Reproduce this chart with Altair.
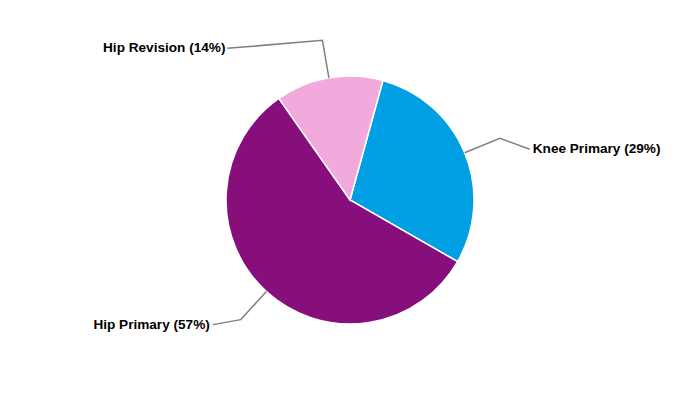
import altair as alt
import pandas as pd
import numpy as np

# data
categories = ["Knee Primary", "Hip Primary", "Hip Revision"]
shares = [29, 57, 14]
colors = ["#009FE3", "#870F7B", "#F2AADC"]

# layout (page pixel coords)
W, H = 684, 384
CX, CY = 350, 200
R = 124
R_ELBOW = 162
START = np.deg2rad(15.4)
label_off = {  # from elbow to label end
    "Knee Primary": (30, 11, 3, "left"),
    "Hip Primary": (-28, 5, -3, "right"),
    "Hip Revision": (-95, 8, -2, "right"),
}

vals = np.array(shares, dtype=float)
frac = vals / vals.sum()
ends = START + np.cumsum(frac) * 2 * np.pi
mids = ends - frac * np.pi

pie_df = pd.DataFrame({"cat": categories, "share": shares, "ord": range(len(categories))})

line_rows, text_rows = [], []
for c, s, m in zip(categories, shares, mids):
    p0 = (CX + R * np.sin(m), CY - R * np.cos(m))
    p1 = (CX + R_ELBOW * np.sin(m), CY - R_ELBOW * np.cos(m))
    dx, dy, tdx, al = label_off[c]
    p2 = (p1[0] + dx, p1[1] + dy)
    for i, p in enumerate([p0, p1, p2]):
        line_rows.append({"cat": c, "i": i, "x": p[0], "y": p[1]})
    text_rows.append({"cat": c, "label": f"{c} ({s}%)", "x": p2[0] + tdx, "y": p2[1], "align": al})

line_df = pd.DataFrame(line_rows)
text_df = pd.DataFrame(text_rows)

xs = alt.Scale(domain=[8, 8 + W], nice=False, zero=False)
ys = alt.Scale(domain=[8, 8 + H], nice=False, zero=False, reverse=True)

pie = alt.Chart(pie_df).mark_arc(radius=R, stroke="white", strokeWidth=1.5).encode(
    theta=alt.Theta("share:Q", stack=True, scale=alt.Scale(range=[START, START + 2 * np.pi])),
    order=alt.Order("ord:Q"),
    color=alt.Color("cat:N", scale=alt.Scale(domain=categories, range=colors), legend=None),
)

lines = alt.Chart(line_df).mark_line(color="#808080", strokeWidth=1.5).encode(
    x=alt.X("x:Q", scale=xs, axis=None),
    y=alt.Y("y:Q", scale=ys, axis=None),
    detail="cat:N",
    order="i:Q",
)

texts = []
for al in ["left", "right"]:
    sub = text_df[text_df["align"] == al]
    texts.append(
        alt.Chart(sub).mark_text(
            align=al, baseline="middle", font="Liberation Sans", fontWeight="bold",
            fontSize=13.6, color="black",
        ).encode(
            x=alt.X("x:Q", scale=xs, axis=None),
            y=alt.Y("y:Q", scale=ys, axis=None),
            text="label:N",
        )
    )

chart = alt.layer(pie, lines, *texts).properties(
    width=W, height=H, padding=0, autosize="none"
).configure_view(stroke=None).resolve_scale(color="independent")

chart.save("out.html", embed_options={"renderer": "svg", "actions": False})
